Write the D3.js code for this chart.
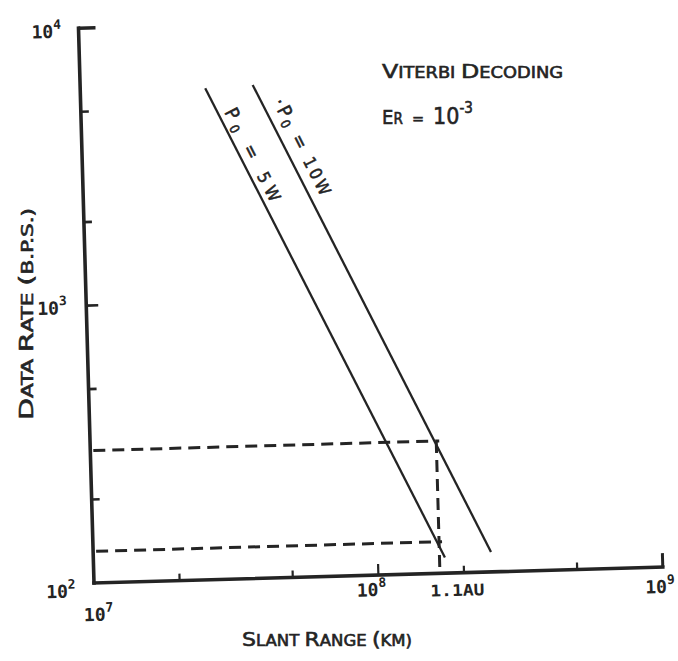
<!DOCTYPE html>
<html><head><meta charset="utf-8">
<script src="https://cdn.jsdelivr.net/npm/d3@7"></script>
<style>html,body{margin:0;padding:0;background:#fff;}svg{display:block;}</style>
</head><body>
<svg id="chart" width="678" height="661"></svg>
<script>
// ---- data ----
const xDomain = [1e7, 1e9];
const yDomain = [1e2, 1e4];
const seriesNames = ["P0 = 5W", "P0 = 10W"];
const series5W_x = [2.75e7, 1.72e8];
const series5W_y = [5900, 114];
const series10W_x = [4.04e7, 2.50e8];
const series10W_y = [6000, 118];
const xMinorTicks = [2e7, 5e7, 2e8, 5e8];
const xMajorTicks = [1e7, 1e8, 1e9];
const yMinorTicks = [2e2, 5e2, 2e3, 5e3];
const yMajorTicks = [1e2, 1e3, 1e4];
const auRange = 1.646e8;          // 1.1 AU in km
const rateAt10W = 300;            // dashed reading, 10 W
const rateAt5W = 130;             // dashed reading, 5 W
const xTickLabels = [{b:"10",e:"7"},{b:"10",e:"8"},{b:"10",e:"9"}];
const yTickLabels = [{b:"10",e:"2"},{b:"10",e:"3"},{b:"10",e:"4"}];

// ---- layout ----
const X0 = 94, X1 = 663, Y0 = 583, Y1 = 28;
const ink = "#242424";
const svg = d3.select("#chart");
const g = svg.append("g").attr("transform", `rotate(-1.6, ${X0}, ${Y0})`);

const x = d3.scaleLog().domain(xDomain).range([X0, X1]);
const y = d3.scaleLog().domain(yDomain).range([Y0, Y1]);

const numFont = "'DejaVu Sans Mono', 'Liberation Mono', monospace";
const letFont = "'DejaVu Sans Condensed', 'DejaVu Sans', sans-serif";

// axes
g.append("line").attr("x1", x(xDomain[0])).attr("y1", y(yDomain[0]))
  .attr("x2", x(xDomain[0])).attr("y2", y(yDomain[1]))
  .attr("stroke", ink).attr("stroke-width", 3.6).attr("stroke-linecap","square");
g.append("line").attr("x1", x(xDomain[0])).attr("y1", y(yDomain[0]))
  .attr("x2", x(xDomain[1])).attr("y2", y(yDomain[0]))
  .attr("stroke", ink).attr("stroke-width", 3.6).attr("stroke-linecap","square");

// y ticks (inward)
const yTickLen = v => v === 1e4 ? 17 : (v === 1e3 ? 12 : 8);
g.selectAll(".ytick").data(yMinorTicks.concat([1e3, 1e4])).join("line")
  .attr("x1", x(xDomain[0])).attr("x2", d => x(xDomain[0]) + yTickLen(d))
  .attr("y1", d => y(d)).attr("y2", d => y(d))
  .attr("stroke", ink).attr("stroke-width", d => d === 1e4 ? 3.4 : 2.6);
// x ticks (inward)
const xTickLen = v => v === 1e9 ? 14 : (v === 1e8 ? 11 : 7);
g.selectAll(".xtick").data(xMinorTicks.concat([1e8, 1e9])).join("line")
  .attr("x1", d => x(d)).attr("x2", d => x(d))
  .attr("y1", y(yDomain[0])).attr("y2", d => y(yDomain[0]) - xTickLen(d))
  .attr("stroke", ink).attr("stroke-width", d => d === 1e9 ? 3 : 2.2);

// tick labels
function powLabel(sel, lab, px, py, anchor) {
  const t = sel.append("text").attr("x", px).attr("y", py)
    .attr("font-family", numFont).attr("font-size", 18).attr("font-weight", "bold")
    .attr("fill", ink).attr("text-anchor", anchor || "start");
  t.append("tspan").text(lab.b);
  t.append("tspan").attr("dy", -9).attr("font-size", 13).text(lab.e);
  return t;
}
const yLabOff = [[-48, 14], [-49, 8], [-47, 9]];
yMajorTicks.forEach((v, i) => powLabel(g, yTickLabels[i], x(xDomain[0]) + yLabOff[i][0], y(v) + yLabOff[i][1]));
const xLabOff = [[-11, 38], [-22, 21], [-18, 26]];
xMajorTicks.forEach((v, i) => powLabel(g, xTickLabels[i], x(v) + xLabOff[i][0], y(yDomain[0]) + xLabOff[i][1]));
g.append("text").attr("x", x(auRange) - 10).attr("y", y(yDomain[0]) + 23)
  .attr("font-family", numFont).attr("font-size", 16).attr("font-weight", "bold")
  .attr("fill", ink).attr("textLength", 54).attr("lengthAdjust", "spacingAndGlyphs").text("1.1AU");

// curves
const line = d3.line().x(d => x(d[0])).y(d => y(d[1]));
const curves = [
  {name: seriesNames[0], pts: d3.zip(series5W_x, series5W_y), lx: 3.05e7, off: 6},
  {name: seriesNames[1], pts: d3.zip(series10W_x, series10W_y), lx: 4.40e7, off: 10}
];
g.selectAll(".curve").data(curves).join("path")
  .attr("d", d => line(d.pts)).attr("fill", "none")
  .attr("stroke", ink).attr("stroke-width", 2.3);

// curve labels along the line
curves.forEach((c, i) => {
  const [p0, p1] = c.pts;
  const t = (Math.log(c.lx) - Math.log(p0[0])) / (Math.log(p1[0]) - Math.log(p0[0]));
  const ly = Math.exp(Math.log(p0[1]) + t * (Math.log(p1[1]) - Math.log(p0[1])));
  const sx = x(c.lx), sy = y(ly);
  const ang = Math.atan2(y(p1[1]) - y(p0[1]), x(p1[0]) - x(p0[0])) * 180 / Math.PI;
  const txt = g.append("text")
    .attr("transform", `translate(${sx},${sy}) rotate(${ang}) translate(0,${-c.off})`)
    .attr("font-family", letFont).attr("font-size", 19).attr("fill", ink)
    .attr("stroke", ink).attr("stroke-width", 0.5);
  if (i === 1) txt.append("tspan").text("·");
  txt.append("tspan").text("P");
  txt.append("tspan").attr("dy", 3).attr("font-size", 13).text("0");
  txt.append("tspan").attr("dy", -3).text(" = ");
  txt.append("tspan").attr("font-size", 17).text(i === 0 ? "5W" : "10W");
  txt.attr("textLength", i === 0 ? 102 : 106).attr("lengthAdjust", "spacing");
});

// dashed reading lines
const dash = "12,7";
const dashed = [
  [[xDomain[0], rateAt10W], [auRange, rateAt10W]],
  [[xDomain[0], rateAt5W], [auRange, rateAt5W]],
  [[auRange, rateAt10W], [auRange, yDomain[0]]]
];
g.selectAll(".dash").data(dashed).join("path")
  .attr("d", d => line(d)).attr("fill", "none")
  .attr("stroke", ink).attr("stroke-width", 3).attr("stroke-dasharray", dash)
  .attr("transform", (d, i) => i < 2 ? "translate(3,0)" : null);

// titles (small caps style)
function smallCaps(sel, parts, big, small) {
  parts.forEach(p => {
    sel.append("tspan").attr("font-size", big).text(p[0]);
    if (p[1]) sel.append("tspan").attr("font-size", small).text(p[1]);
  });
}
function lettering(sel) {
  return sel.attr("font-family", letFont).attr("fill", ink)
    .attr("stroke", ink).attr("stroke-width", 0.55);
}
const tx = lettering(svg.append("text").attr("x", 242).attr("y", 646))
  .attr("textLength", 170).attr("lengthAdjust", "spacingAndGlyphs");
smallCaps(tx, [["S","LANT "],["R","ANGE   "],["(","KM)"]], 20, 15);

const ty = lettering(svg.append("text").attr("transform", "translate(33,420) rotate(-90)"))
  .attr("textLength", 212).attr("lengthAdjust", "spacingAndGlyphs");
smallCaps(ty, [["D","ATA "],["R","ATE  "],["(","B.P.S.)"]], 20, 15);

const t1 = lettering(svg.append("text").attr("x", 382).attr("y", 78))
  .attr("textLength", 181).attr("lengthAdjust", "spacingAndGlyphs");
smallCaps(t1, [["V","ITERBI "],["D","ECODING"]], 20, 15);

const t2 = lettering(svg.append("text").attr("x", 382).attr("y", 124));
t2.append("tspan").attr("font-size", 20).text("E");
t2.append("tspan").attr("font-size", 15).text("R");
t2.append("tspan").attr("font-size", 16).text(" \u00a0=\u00a0 ");
t2.append("tspan").attr("font-size", 23).text("10");
t2.append("tspan").attr("font-size", 15).attr("dy", -11).text("-3");
</script>
</body></html>
